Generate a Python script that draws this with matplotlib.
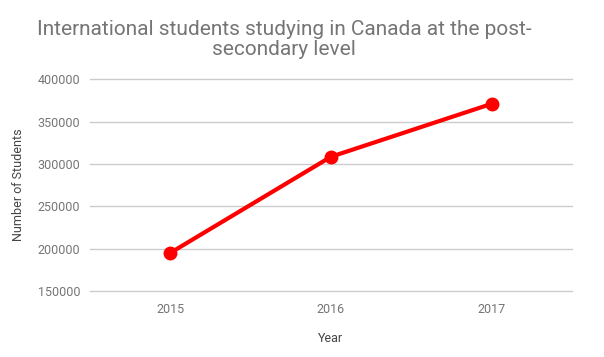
import matplotlib
matplotlib.use('Agg')
import matplotlib.pyplot as plt

# data
years = [2015, 2016, 2017]
students = [195000, 308500, 371000]
yticks = [150000, 200000, 250000, 300000, 350000, 400000]

plt.rcParams['font.family'] = ['Roboto', 'DejaVu Sans']

fig = plt.figure(figsize=(6.04, 3.57), dpi=100)
ax = fig.add_axes([0.149, 0.185, 0.798, 0.593])

ax.plot(years, students, color='#ff0000', linewidth=3, marker='o',
        markersize=9, zorder=3, clip_on=False)

ax.set_xlim(2014.5, 2017.5)
ax.set_ylim(150000, 400000)
ax.set_xticks(years)
ax.set_xticklabels([str(y) for y in years])
ax.set_yticks(yticks)
ax.set_yticklabels([str(v) for v in yticks])

ax.grid(axis='y', color='#cccccc', linewidth=1, clip_on=False)
ax.set_axisbelow(True)
for s in ax.spines.values():
    s.set_visible(False)
ax.tick_params(length=0, labelsize=9, colors='#757575')
ax.tick_params(axis='y', pad=7)
ax.tick_params(axis='x', pad=9)

ax.set_xlabel('Year', fontsize=9, color='#444444', labelpad=11)
ax.set_ylabel('Number of Students', fontsize=9, color='#444444', labelpad=9)

fig.text(0.47, 0.945, 'International students studying in Canada at the post-\nsecondary level',
         ha='center', va='top', fontsize=15, color='#757575', linespacing=1.1)

fig.savefig('out.png', dpi=100)
